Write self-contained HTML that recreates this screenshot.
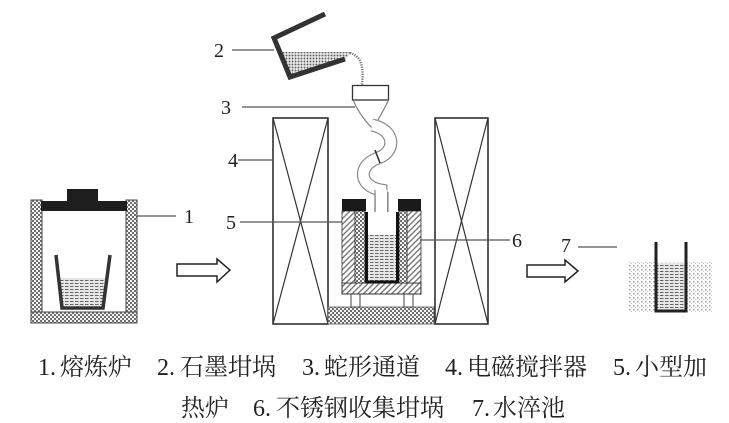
<!DOCTYPE html>
<html><head><meta charset="utf-8"><style>
html,body{margin:0;padding:0;background:#fff;}
#w{position:relative;width:729px;height:423px;overflow:hidden;background:#fff;}
svg{position:absolute;left:0;top:0;}
.t{position:absolute;font-family:"Liberation Serif","Noto Serif CJK SC",serif;font-size:24px;line-height:24px;color:#222;white-space:nowrap;}
</style></head><body><div id="w">
<svg width="729" height="423" viewBox="0 0 729 423">
<defs>
<pattern id="chk" width="4" height="4" patternUnits="userSpaceOnUse"><rect width="4" height="4" fill="#f4f4f4"/><rect width="2" height="2" fill="#6e6e6e"/><rect x="2" y="2" width="2" height="2" fill="#6e6e6e"/></pattern>
<pattern id="melt" width="5" height="3" patternUnits="userSpaceOnUse"><rect width="5" height="3" fill="#e6e6e6"/><rect x="0" y="1" width="3.5" height="1" fill="#666"/></pattern>
<pattern id="hatch" width="4" height="4" patternUnits="userSpaceOnUse" patternTransform="rotate(45)"><rect width="4" height="4" fill="#fff"/><rect width="1.4" height="4" fill="#777"/></pattern>
<pattern id="water" width="4" height="4" patternUnits="userSpaceOnUse"><rect width="4" height="4" fill="#fff"/><rect x="1" y="1" width="1.5" height="1.5" fill="#a0a0a0"/><rect x="3" y="3" width="1" height="1" fill="#c0c0c0"/></pattern>
<pattern id="stream" width="3" height="3" patternUnits="userSpaceOnUse"><rect width="3" height="3" fill="#eee"/><circle cx="1.5" cy="1.5" r="1" fill="#666"/></pattern>
</defs>

<!-- Furnace 1 -->
<rect x="31" y="200" width="11" height="112" fill="url(#chk)" stroke="#444" stroke-width="1"/>
<rect x="126" y="200" width="11" height="112" fill="url(#chk)" stroke="#444" stroke-width="1"/>
<rect x="31" y="312" width="106" height="11" fill="url(#chk)" stroke="#444" stroke-width="1"/>
<rect x="41" y="201" width="86" height="10" fill="#1e1e1e"/>
<rect x="67" y="189" width="31" height="13" fill="#1e1e1e"/>
<polygon points="59,278 107,278 103,306 62,306" fill="url(#melt)"/>
<polyline points="56,255 62,308 103,308 110,255" fill="none" stroke="#333" stroke-width="3.5"/>
<line x1="137" y1="216" x2="176" y2="216" stroke="#555" stroke-width="1.2"/>

<!-- Arrow 1 -->
<polygon points="177,264 217,264 217,259 230,270 217,282 217,276 177,276" fill="#fff" stroke="#222" stroke-width="1.5" stroke-linejoin="miter"/>

<!-- Crucible 2 -->
<polygon points="281,52 352,52 345,59 291,74" fill="url(#stream)"/>
<polyline points="325,14 274,38 290,77 345,59" fill="none" stroke="#333" stroke-width="5" stroke-linejoin="miter"/>
<path d="M350,53 C361,56 364,66 362,85" fill="none" stroke="#777" stroke-width="2.4" stroke-dasharray="1.2 1.2"/>
<line x1="232" y1="50" x2="274" y2="50" stroke="#555" stroke-width="1.2"/>

<!-- Funnel and snake channel -->
<rect x="352.5" y="85.5" width="36" height="14.5" fill="#fff" stroke="#333" stroke-width="1.3"/>
<path d="M353,100 C358,112 365,121 373,129" fill="none" stroke="#888" stroke-width="1.3"/>
<path d="M388.5,100 C385,108 381,114 378,120" fill="none" stroke="#888" stroke-width="1.3"/>
<path d="M372,125 C396,130 396,152 378,158 C358,165 358,186 381,190 L381,212" fill="none" stroke="#8a8a8a" stroke-width="13"/>
<path d="M372,125 C396,130 396,152 378,158 C358,165 358,186 381,190 L381,212" fill="none" stroke="#fff" stroke-width="10.6"/>
<rect x="376" y="190" width="11" height="22" fill="#fff"/>
<line x1="375" y1="190" x2="375" y2="212" stroke="#8a8a8a" stroke-width="1.3"/>
<line x1="388" y1="192" x2="388" y2="212" stroke="#8a8a8a" stroke-width="1.3"/>
<line x1="375" y1="150" x2="380" y2="163" stroke="#333" stroke-width="1.6"/>
<line x1="242" y1="107" x2="355" y2="107" stroke="#555" stroke-width="1.2"/>

<!-- Stirrers -->
<rect x="273" y="118" width="55" height="206" fill="#fff" stroke="#222" stroke-width="1.5"/>
<line x1="273" y1="118" x2="328" y2="324" stroke="#333" stroke-width="1.2"/>
<line x1="328" y1="118" x2="273" y2="324" stroke="#333" stroke-width="1.2"/>
<rect x="435" y="118" width="53" height="206" fill="#fff" stroke="#222" stroke-width="1.5"/>
<line x1="435" y1="118" x2="488" y2="324" stroke="#333" stroke-width="1.2"/>
<line x1="488" y1="118" x2="435" y2="324" stroke="#333" stroke-width="1.2"/>
<line x1="238" y1="160" x2="273" y2="160" stroke="#555" stroke-width="1.2"/>

<!-- Small heating furnace -->
<rect x="328" y="307" width="106" height="17" fill="url(#chk)" stroke="#555" stroke-width="0.8"/>
<rect x="351" y="294" width="9" height="13" fill="#fff" stroke="#444" stroke-width="1"/>
<rect x="404" y="294" width="9" height="13" fill="#fff" stroke="#444" stroke-width="1"/>
<rect x="342" y="283" width="79" height="11" fill="url(#hatch)" stroke="#333" stroke-width="1"/>
<rect x="342" y="211" width="13" height="72" fill="url(#hatch)" stroke="#333" stroke-width="0.8"/>
<rect x="355" y="211" width="10" height="72" fill="url(#chk)" stroke="#333" stroke-width="0.8"/>
<rect x="407" y="211" width="14" height="72" fill="url(#hatch)" stroke="#333" stroke-width="0.8"/>
<rect x="399" y="211" width="8" height="72" fill="url(#chk)" stroke="#333" stroke-width="0.8"/>
<rect x="368" y="235" width="28" height="46" fill="url(#melt)"/>
<polyline points="366.5,212 366.5,282 397.5,282 397.5,212" fill="none" stroke="#111" stroke-width="3"/>
<rect x="342" y="199" width="24" height="12" fill="#1a1a1a"/>
<rect x="398" y="199" width="23" height="12" fill="#1a1a1a"/>
<line x1="240" y1="222" x2="342" y2="222" stroke="#555" stroke-width="1.2"/>
<line x1="420" y1="240" x2="510" y2="240" stroke="#555" stroke-width="1.2"/>

<!-- Arrow 2 -->
<polygon points="527,265 565,265 565,260 578,271 565,282 565,277 527,277" fill="#fff" stroke="#222" stroke-width="1.5"/>

<!-- Quench tank -->
<rect x="628" y="262" width="84" height="50" fill="url(#water)"/>
<rect x="656" y="263" width="30" height="48" fill="url(#melt)"/>
<polyline points="656,242 656,311 686,311 686,242" fill="none" stroke="#222" stroke-width="3"/>
<line x1="578" y1="247" x2="617" y2="247" stroke="#555" stroke-width="1.2"/>

<!-- label digits -->
<g font-family="Liberation Serif, serif" font-size="20" fill="#222">
<text x="184" y="223">1</text>
<text x="214" y="57">2</text>
<text x="221" y="114">3</text>
<text x="228" y="167">4</text>
<text x="226" y="229">5</text>
<text x="512" y="247">6</text>
<text x="561" y="252">7</text>
</g>
</svg>

<div class="t" style="left:38px;top:356px;">1.</div>
<div class="t" style="left:60px;top:356px;">熔炼炉</div>
<div class="t" style="left:157px;top:356px;">2.</div>
<div class="t" style="left:180px;top:356px;">石墨坩埚</div>
<div class="t" style="left:302px;top:356px;">3.</div>
<div class="t" style="left:324px;top:356px;">蛇形通道</div>
<div class="t" style="left:445px;top:356px;">4.</div>
<div class="t" style="left:467px;top:356px;">电磁搅拌器</div>
<div class="t" style="left:613px;top:356px;">5.</div>
<div class="t" style="left:635px;top:356px;">小型加</div>

<div class="t" style="left:181px;top:397px;">热炉</div>
<div class="t" style="left:253px;top:397px;">6.</div>
<div class="t" style="left:276px;top:397px;">不锈钢收集坩埚</div>
<div class="t" style="left:472px;top:397px;">7.</div>
<div class="t" style="left:493px;top:397px;">水淬池</div>
</div></body></html>
